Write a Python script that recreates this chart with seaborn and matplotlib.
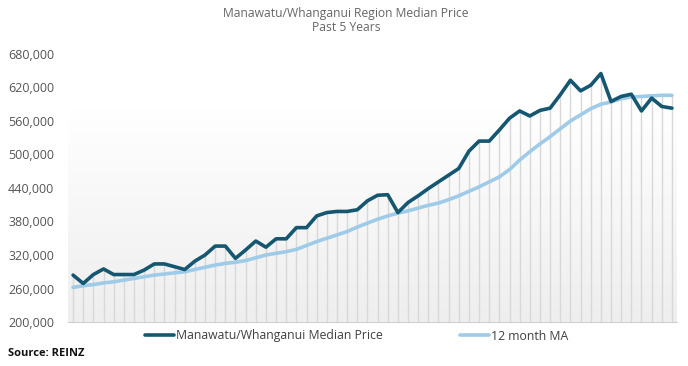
import numpy as np
import pandas as pd
import matplotlib
matplotlib.use('Agg')
import matplotlib.pyplot as plt
from matplotlib.colors import LinearSegmentedColormap
from matplotlib.ticker import FuncFormatter
from matplotlib.lines import Line2D
import seaborn as sns

# monthly values, past 5 years (60 months)
months = list(range(60))
median_price = [284, 269, 285, 295, 285, 285, 285, 293, 304, 304,
                299, 294, 309, 320, 336, 336, 314, 329, 345, 334,
                349, 349, 369, 369, 390, 396, 398, 398, 401, 417,
                427, 428, 396, 414, 426, 439, 451, 463, 475, 506,
                524, 524, 544, 565, 578, 569, 579, 583, 607, 633,
                614, 624, 645, 595, 604, 608, 578, 601, 586, 583]
moving_avg = [262, 265, 267, 270, 272, 275, 278, 281, 284, 286,
              288, 290, 294, 298, 302, 305, 307, 310, 315, 320,
              323, 326, 330, 337, 344, 350, 356, 362, 370, 377,
              384, 390, 395, 399, 404, 409, 413, 419, 426, 434,
              442, 451, 460, 473, 490, 505, 519, 532, 546, 560,
              571, 582, 590, 594, 600, 603, 604, 605, 606, 606]
y_ticks = [200000, 260000, 320000, 380000, 440000, 500000, 560000, 620000, 680000]

df = pd.DataFrame({
    'month': months,
    'median': np.array(median_price) * 1000,
    'ma': np.array(moving_avg) * 1000,
})

DARK = '#155670'
LIGHT = '#9ecbe8'

sns.set_style('white')
plt.rcParams['font.family'] = ['Open Sans', 'DejaVu Sans']

fig = plt.figure(figsize=(6.88, 3.66), dpi=100)
ax = fig.add_axes([68 / 688, 1 - 322 / 366, 609 / 688, 268 / 366])

# background gradient, white at top to light grey at bottom
cmap = LinearSegmentedColormap.from_list('bg', ['#eeeeee', '#ffffff'])
grad = np.clip(np.linspace(0, 1, 256) / 0.8, 0, 1).reshape(-1, 1)
ax.imshow(grad, cmap=cmap, aspect='auto', extent=[0, 1, 0, 1],
          transform=ax.transAxes, origin='lower', zorder=0)

# drop lines at each month
top = df[['median', 'ma']].max(axis=1)
ax.vlines(df['month'], 200000, top, color='#d8d8d8', lw=1, zorder=1)

sns.lineplot(data=df, x='month', y='ma', color=LIGHT, lw=2.6, ax=ax, zorder=3)
sns.lineplot(data=df, x='month', y='median', color=DARK, lw=2.6, ax=ax, zorder=4)

ax.set_xlim(-0.5, 59.5)
ax.set_ylim(200000, 680000)
ax.set_yticks(y_ticks)
ax.yaxis.set_major_formatter(FuncFormatter(lambda v, p: f'{int(v):,}'))
ax.set_xticks(np.arange(-0.5, 60, 1))
ax.set_xticklabels([])
ax.tick_params(axis='x', length=3, color='#c8c8c8', width=0.8, direction='out')
ax.tick_params(axis='y', length=0, pad=10, labelsize=9, labelcolor='#555555')
ax.set_xlabel('')
ax.set_ylabel('')
for s in ['top', 'right', 'left']:
    ax.spines[s].set_visible(False)
ax.spines['bottom'].set_color('#d0d0d0')
ax.spines['bottom'].set_linewidth(0.8)

fig.text(0.503, 0.962, 'Manawatu/Whanganui Region Median Price', ha='center', va='center',
         fontsize=8.7, color='#666666')
fig.text(0.503, 0.925, 'Past 5 Years', ha='center', va='center',
         fontsize=8.7, color='#666666')

handles = [Line2D([], [], color=DARK, lw=2.6),
           Line2D([], [], color=LIGHT, lw=2.6)]
fig.legend(handles, ['Manawatu/Whanganui Median Price', '12 month MA'],
           loc='center', bbox_to_anchor=(0.518, 1 - 336 / 366), ncol=2, frameon=False,
           fontsize=8.8, handlelength=2.4, handletextpad=0.15, columnspacing=6.3,
           labelcolor='#404040')

fig.text(8 / 688, 1 - 354 / 366, 'Source: REINZ', ha='left', va='center',
         fontsize=8, fontweight='bold', color='#111111')

fig.savefig('out.png', dpi=100)
